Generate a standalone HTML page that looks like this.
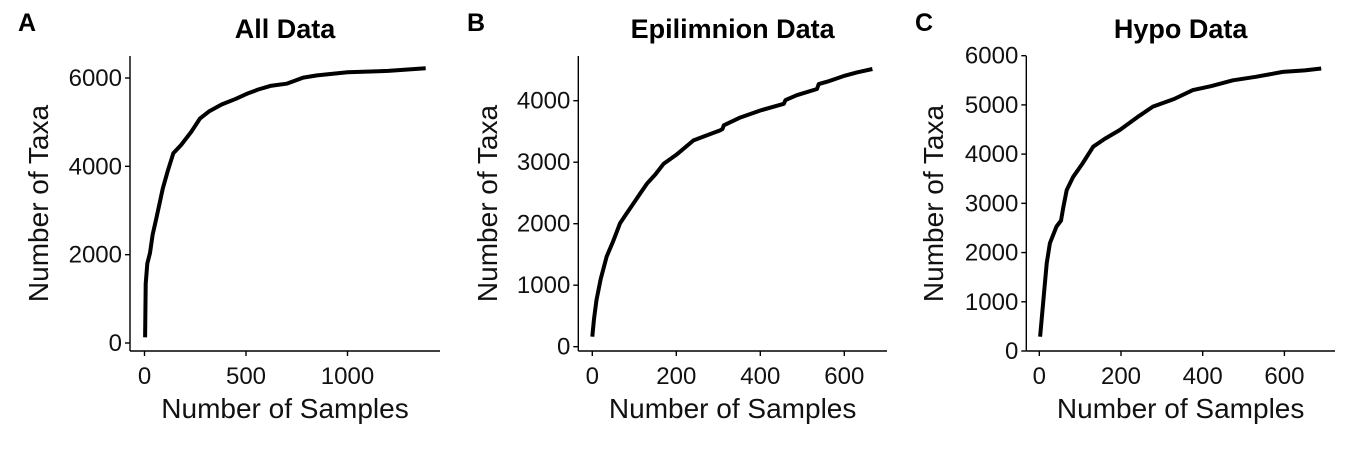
<!DOCTYPE html>
<html><head><meta charset="utf-8"><style>
html,body{margin:0;padding:0;background:#fff;}
svg{display:block;font-family:"Liberation Sans",Arial,sans-serif;}
</style></head><body>
<svg id="chart" width="1350" height="450" viewBox="0 0 1350 450"></svg>
<script>
const titles = ["All Data","Epilimnion Data","Hypo Data"];
const letters = ["A","B","C"];
const xTicksA = [0,500,1000];
const yTicksA = [0,2000,4000,6000];
const xTicksB = [0,200,400,600];
const yTicksB = [0,1000,2000,3000,4000];
const xTicksC = [0,200,400,600];
const yTicksC = [0,1000,2000,3000,4000,5000,6000];
const samplesA = [3,6,14,27,40,60,90,115,142,180,230,273,320,380,450,503,560,620,700,782,850,1000,1200,1385];
const taxaA = [130,1340,1800,2037,2450,2860,3500,3900,4295,4480,4780,5080,5250,5400,5530,5640,5740,5820,5870,6010,6060,6130,6160,6220];
const samplesB = [0,4,10,20,34,50,66,80,98,115,130,150,170,200,241,270,305,310,313,350,400,456,460,487,535,539,560,598,630,667];
const taxaB = [163,450,760,1100,1463,1720,2005,2150,2330,2500,2650,2800,2975,3120,3355,3430,3520,3540,3600,3720,3840,3950,4010,4090,4190,4270,4310,4400,4460,4515];
const samplesC = [2,10,18,26,42,53,59,67,83,105,132,160,197,240,278,330,376,420,474,530,596,650,690];
const taxaC = [290,1035,1780,2190,2530,2650,2930,3270,3540,3800,4150,4310,4490,4750,4965,5120,5300,5380,5500,5570,5670,5700,5740];

const panels = [
  {title:titles[0],letter:letters[0],xt:xTicksA,yt:yTicksA,xs:samplesA,ys:taxaA,
   ax:130,ay:351,top:56,right:440,x0:144.5,xpx:0.203,y0:343,ypx:(343-78)/6000,lx:18,ytx:48},
  {title:titles[1],letter:letters[1],xt:xTicksB,yt:yTicksB,xs:samplesB,ys:taxaB,
   ax:578.3,ay:351,top:56,right:887,x0:592.3,xpx:0.42,y0:346.7,ypx:0.0615,lx:467,ytx:497},
  {title:titles[2],letter:letters[2],xt:xTicksC,yt:yTicksC,xs:samplesC,ys:taxaC,
   ax:1026.3,ay:351,top:56,right:1335,x0:1039.3,xpx:0.4085,y0:351,ypx:0.04922,lx:915,ytx:943}
];
const svg = document.getElementById('chart');
const NS = 'http://www.w3.org/2000/svg';
function mk(tag, attrs, parent){
  const e = document.createElementNS(NS, tag);
  for (const k in attrs) e.setAttribute(k, attrs[k]);
  parent.appendChild(e);
  return e;
}
panels.forEach((p, i) => {
  const g = mk('g', {}, svg);
  
  
  const X = v => p.x0 + v * p.xpx;
  const Y = v => p.y0 - v * p.ypx;
  const lt = mk('text', {x:p.lx, y:31, 'font-size':25, 'font-weight':'bold'}, g);
  lt.textContent = p.letter;
  
  
  const tt = mk('text', {x:(p.ax + p.right)/2, y:38, 'font-size':27, 'font-weight':'bold', 'text-anchor':'middle'}, g);
  tt.textContent = p.title;
  
  
  const yl = mk('line', {x1:p.ax, y1:p.top, x2:p.ax, y2:p.ay, stroke:'#000', 'stroke-width':1.4}, g);
  
  
  const xl = mk('line', {x1:p.ax, y1:p.ay, x2:p.right, y2:p.ay, stroke:'#000', 'stroke-width':1.4}, g);
  
  
  p.yt.forEach(v => {
    const tk = mk('line', {x1:p.ax-5, y1:Y(v), x2:p.ax, y2:Y(v), stroke:'#000', 'stroke-width':1.4}, g);
    
    
    const t = mk('text', {x:p.ax-8, y:Y(v)+8, 'font-size':24, 'text-anchor':'end', fill:'#111'}, g);
    t.textContent = v;
    
    
  });
  p.xt.forEach(v => {
    const tk = mk('line', {x1:X(v), y1:p.ay, x2:X(v), y2:p.ay+5, stroke:'#000', 'stroke-width':1.4}, g);
    
    
    const t = mk('text', {x:X(v), y:384, 'font-size':24, 'text-anchor':'middle', fill:'#111'}, g);
    t.textContent = v;
    
    
  });
  const xt = mk('text', {x:(p.ax + p.right)/2, y:418, 'font-size':28, 'text-anchor':'middle', fill:'#111'}, g);
  xt.textContent = 'Number of Samples';
  
  
  const yt = mk('text', {x:0, y:0, 'font-size':28, 'text-anchor':'middle', fill:'#111',
    transform:'translate(' + p.ytx + ',' + ((p.top + p.ay)/2) + ') rotate(-90)'}, g);
  yt.textContent = 'Number of Taxa';
  
  
  const d = p.xs.map((v, j) => (j ? 'L' : 'M') + X(v).toFixed(1) + ',' + Y(p.ys[j]).toFixed(1)).join(' ');
  const path = mk('path', {d:d, fill:'none', stroke:'#000', 'stroke-width':4, 'stroke-linejoin':'round', 'stroke-linecap':'butt'}, g);
  
  
});
</script>
</body></html>
